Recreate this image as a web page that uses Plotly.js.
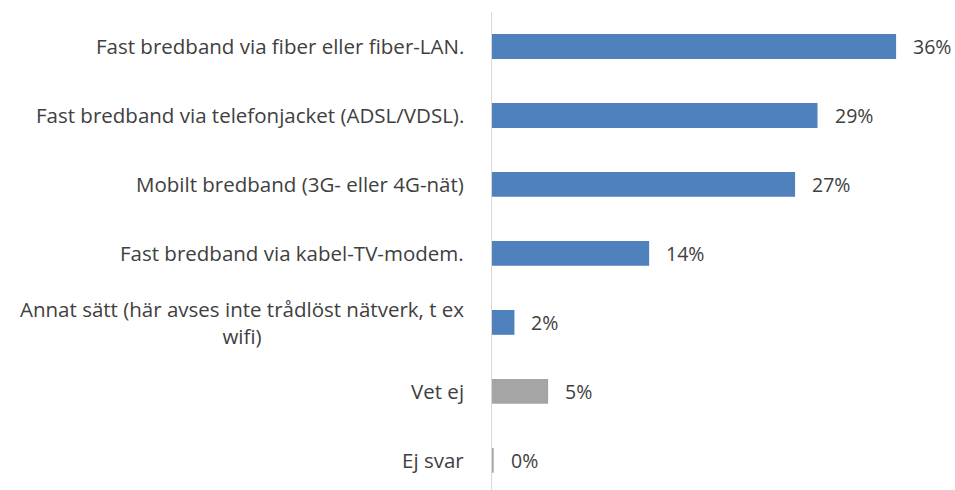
<!DOCTYPE html>
<html><head><meta charset="utf-8">
<script src="https://cdn.plot.ly/plotly-3.0.1.min.js"></script>
<style>html,body{margin:0;padding:0;background:#fff;}#chart{width:955px;height:490px;}</style>
</head><body><div id="chart"></div>
<script>
const categories = [
  "Fast bredband via fiber eller fiber-LAN.",
  "Fast bredband via telefonjacket (ADSL/VDSL).",
  "Mobilt bredband (3G- eller 4G-nät)",
  "Fast bredband via kabel-TV-modem.",
  "Annat sätt (här avses inte trådlöst nätverk, t ex<br>wifi)",
  "Vet ej",
  "Ej svar"
];
const values = [36, 29, 27, 14, 2, 5, 0.15];
const valueLabels = ["36%", "29%", "27%", "14%", "2%", "5%", "0%"];
const barColors = ["#4f81bd", "#4f81bd", "#4f81bd", "#4f81bd", "#4f81bd", "#a5a5a5", "#a5a5a5"];

const FONT = "Open Sans, Liberation Sans, sans-serif";
const TXT = "#404040";

const annotations = [];
categories.forEach((c, i) => {
  annotations.push({
    text: c, xref: "paper", x: 0, yref: "y", y: i,
    xanchor: "right", yanchor: "middle", xshift: -26, align: "center",
    showarrow: false, font: {family: FONT, size: 20.5, color: TXT}
  });
  annotations.push({
    text: valueLabels[i], xref: "x", x: values[i], yref: "y", y: i,
    xanchor: "left", yanchor: "middle", xshift: 15,
    showarrow: false, font: {family: FONT, size: 19.5, color: TXT}
  });
});

const data = [{
  type: "bar", orientation: "h",
  x: values, y: categories.map((c, i) => i),
  marker: {color: barColors},
  hoverinfo: "none"
}];

const layout = {
  width: 955, height: 490,
  margin: {l: 492, r: 14, t: 12, b: 0, pad: 0},
  paper_bgcolor: "#fff", plot_bgcolor: "#fff",
  showlegend: false,
  bargap: 0.64,
  xaxis: {range: [0, 40], showgrid: false, zeroline: false, showline: false, showticklabels: false, ticks: ""},
  yaxis: {range: [6.43, -0.5], showgrid: false, zeroline: false, showline: true, linecolor: "#d9d9d9", linewidth: 1.5, showticklabels: false, ticks: ""},
  annotations: annotations
};

Plotly.newPlot("chart", data, layout, {displayModeBar: false, staticPlot: true});
</script></body></html>
